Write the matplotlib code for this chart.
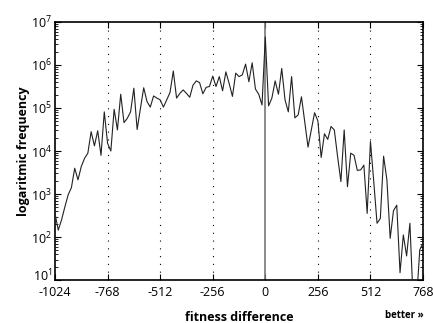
import numpy as np
import matplotlib
matplotlib.use("Agg")
import matplotlib.pyplot as plt
from matplotlib.ticker import LogLocator, NullFormatter, FixedLocator
from matplotlib.transforms import ScaledTranslation

plt.rcParams['font.family'] = ['Open Sans', 'DejaVu Sans']
plt.rcParams['mathtext.fontset'] = 'custom'
plt.rcParams['mathtext.rm'] = 'Open Sans'
plt.rcParams['mathtext.it'] = 'Open Sans'
plt.rcParams['mathtext.bf'] = 'Open Sans:bold'

# fitness difference bins (step 16)
fitness_diff = list(range(-1024, 769, 16))
# log10 of frequency
log10_freq = [
    2.55, 2.16, 2.40, 2.70, 2.98, 3.15, 3.60, 3.33, 3.64, 3.83,
    3.95, 4.45, 4.12, 4.47, 3.90, 4.91, 4.18, 4.00, 4.97, 4.49,
    5.32, 4.66, 4.76, 4.91, 5.46, 4.50, 4.99, 5.47, 5.15, 5.02,
    5.28, 5.23, 5.19, 5.02, 5.19, 5.36, 5.86, 5.23, 5.34, 5.42,
    5.34, 5.25, 5.53, 5.63, 5.59, 5.33, 5.48, 5.50, 5.74, 5.50,
    5.73, 5.40, 5.84, 5.57, 5.27, 5.81, 5.73, 5.77, 6.02, 5.61,
    6.05, 5.44, 5.32, 5.07, 6.65, 5.05, 5.23, 5.63, 5.32, 5.92,
    5.19, 4.91, 5.73, 4.77, 4.84, 5.26, 4.68, 4.09, 4.49, 4.89,
    4.70, 3.85, 4.40, 4.27, 4.57, 4.49, 3.87, 3.29, 4.49, 3.17,
    3.95, 3.90, 3.55, 3.56, 3.67, 2.55, 4.22, 3.29, 2.32, 2.43,
    3.88, 3.33, 1.97, 2.61, 2.74, 1.17, 2.05, 1.56, 2.32, 0.50,
    0.50, 1.70, 1.86,
]
frequency = [10 ** v for v in log10_freq]

x_ticks = [-1024, -768, -512, -256, 0, 256, 512, 768]
x_tick_labels = ['-1024', '-768', '-512', '-256', '0', '256', '512', '768']
grid_positions = [-768, -512, -256, 256, 512]
y_exponents = [1, 2, 3, 4, 5, 6, 7]

fig = plt.figure(figsize=(4.33, 3.23), dpi=100)
ax = fig.add_axes([0.127, 0.133, 0.85, 0.799])

for g in grid_positions:
    ax.axvline(g, color='black', linestyle=(0, (1, 6)), linewidth=0.8, zorder=1)
ax.axvline(0, color='#777777', linewidth=1.2, zorder=2)

ax.plot(fitness_diff, frequency, color='#222222', linewidth=0.8, zorder=3)

ax.set_yscale('log')
ax.set_xlim(-1024, 768)
ax.set_ylim(10 ** 1, 10 ** 7)

ax.xaxis.set_major_locator(FixedLocator(x_ticks))
ax.set_xticklabels(x_tick_labels)
ax.set_yticks([10 ** e for e in y_exponents])
ax.set_yticklabels([r'$10^{%d}$' % e for e in y_exponents])
ax.yaxis.set_minor_locator(LogLocator(base=10, subs=np.arange(2, 10), numticks=20))
ax.yaxis.set_minor_formatter(NullFormatter())

ax.tick_params(axis='both', which='major', direction='in', length=4, width=0.8,
               labelsize=9, top=True, right=True, pad=2)
ax.tick_params(axis='x', which='major', pad=4)
ax.tick_params(axis='both', which='minor', direction='in', length=2, width=0.6,
               top=True, right=True)
for s in ax.spines.values():
    s.set_linewidth(1.2)

# nudge the lowest y label up so it does not collide with "-1024"
lbl = ax.get_yticklabels()[0]
lbl.set_transform(lbl.get_transform() + ScaledTranslation(0, 4 / 72, fig.dpi_scale_trans))

ax.set_xlabel('fitness difference', fontsize=9, fontweight='bold', labelpad=9)
ax.set_ylabel('logaritmic frequency', fontsize=9, fontweight='bold', labelpad=1)
fig.text(0.935, 0.006, 'better \u00bb', fontsize=7, fontweight='bold', ha='center', va='bottom')

fig.savefig('out.png', dpi=100)
